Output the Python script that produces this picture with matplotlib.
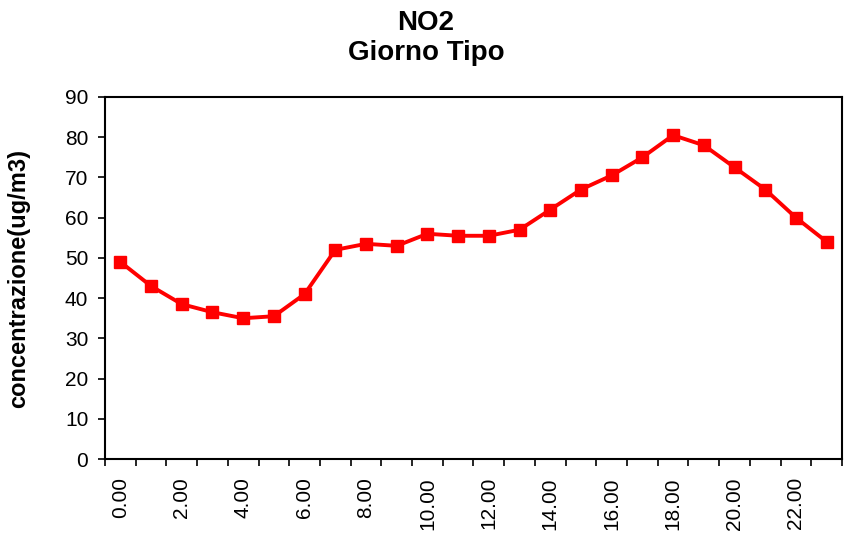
import matplotlib
matplotlib.use("Agg")
import matplotlib.pyplot as plt
import numpy as np

plt.rcParams['font.family'] = ['Liberation Sans', 'DejaVu Sans']

hours = list(range(24))
values = [49, 43, 38.5, 36.5, 35, 35.5, 41, 52, 53.5, 53, 56, 55.5,
          55.5, 57, 62, 67, 70.5, 75, 80.5, 78, 72.5, 67, 60, 54]
tick_hours = list(range(0, 24, 2))
tick_labels = [f"{h}.00" for h in tick_hours]

fig = plt.figure(figsize=(8.52, 5.35), dpi=100)
ax = fig.add_axes([0.1232, 0.142, 0.8651, 0.6767])

ax.plot(hours, values, color='#FF0000', linewidth=2.8, marker='s',
        markersize=8, markerfacecolor='#FF0000', markeredgecolor='#FF0000')

ax.set_xlim(-0.5, 23.5)
ax.set_ylim(0, 90)
ax.set_yticks(range(0, 91, 10))
ax.set_xticks(tick_hours)
ax.set_xticklabels(tick_labels, rotation=90)
ax.set_xticks(np.arange(-0.5, 24, 1), minor=True)
ax.tick_params(axis='x', which='major', length=0, labelsize=15, pad=13)
ax.tick_params(axis='x', which='minor', length=5, width=1.2, direction='out')
ax.tick_params(axis='y', which='major', length=5, width=1.2, direction='out',
               labelsize=15, pad=7)

for s in ax.spines.values():
    s.set_linewidth(1.5)
    s.set_color('black')

ax.set_ylabel('concentrazione(ug/m3)', fontsize=17, fontweight='bold', labelpad=25)
fig.suptitle('NO2\nGiorno Tipo', fontsize=20, fontweight='bold', y=0.982,
             va='top', linespacing=1.2)

fig.savefig('out.png', dpi=100)
